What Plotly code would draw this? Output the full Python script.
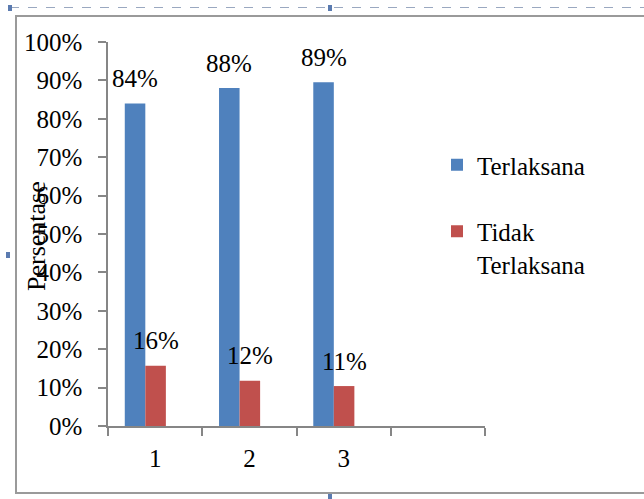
import plotly.graph_objects as go

categories = [1, 2, 3]
category_labels = ["1", "2", "3"]
terlaksana = [0.84, 0.88, 0.895]
tidak_terlaksana = [0.157, 0.118, 0.104]
terlaksana_text = ["84%", "88%", "89%"]
tidak_text = ["16%", "12%", "11%"]
series_names = ["Terlaksana", "Tidak<br>Terlaksana"]
y_ticks = [0, 0.1, 0.2, 0.3, 0.4, 0.5, 0.6, 0.7, 0.8, 0.9, 1.0]

W, H = 644, 499
L, R, T, B = 108, 485, 42, 426  # plot area pixel bounds

def px(x):
    return (x - L) / (R - L)

def py(y):
    return (B - y) / (B - T)

BLUE = "#4F81BD"
RED = "#C0504D"
AXIS = "#868686"
FONT = "Liberation Serif"
BAR_W = 0.218
OFF_BLUE = -0.322
OFF_RED = OFF_BLUE + BAR_W

fig = go.Figure()
fig.add_trace(go.Bar(x=categories, y=terlaksana, name=series_names[0],
                     width=BAR_W, offset=OFF_BLUE,
                     marker=dict(color=BLUE, line=dict(width=0)),
                     legendgroup="a"))
fig.add_trace(go.Bar(x=categories, y=tidak_terlaksana, name=series_names[1],
                     width=BAR_W, offset=OFF_RED,
                     marker=dict(color=RED, line=dict(width=0)),
                     legendgroup="b"))

annotations = []
for c, v, t in zip(categories, terlaksana, terlaksana_text):
    annotations.append(dict(x=c + OFF_BLUE + BAR_W / 2, y=v, text=t, showarrow=False, yshift=25,
                            xanchor="center", yanchor="middle",
                            font=dict(family=FONT, size=25, color="black")))
for c, v, t in zip(categories, tidak_terlaksana, tidak_text):
    annotations.append(dict(x=c + OFF_RED + BAR_W / 2, y=v, text=t, showarrow=False, yshift=25,
                            xanchor="center", yanchor="middle",
                            font=dict(family=FONT, size=25, color="black")))

annotations.append(dict(xref="paper", yref="paper", x=px(37), y=py(236),
                        text="Persentase", textangle=-90, showarrow=False,
                        xanchor="center", yanchor="middle",
                        font=dict(family=FONT, size=26, color="black")))

shapes = [
    dict(type="rect", xref="paper", yref="paper", x0=px(16), x1=px(660), y0=py(493), y1=py(16),
         line=dict(color="#9a9a9a", width=2), fillcolor="rgba(0,0,0,0)", layer="below"),
    dict(type="line", xref="paper", yref="paper", x0=px(10), x1=px(644), y0=py(7.5), y1=py(7.5),
         line=dict(color="#9aa8c0", width=1.2, dash="dash")),
]
for hx, hy in [(10, 8), (330, 8), (8, 255), (330, 497)]:
    shapes.append(dict(type="rect", xref="paper", yref="paper",
                       x0=px(hx - 2), x1=px(hx + 2), y0=py(hy + 3), y1=py(hy - 3),
                       line=dict(width=0), fillcolor="#5b7bb0"))

fig.update_layout(
    width=W, height=H, autosize=False,
    margin=dict(l=L, r=W - R, t=T, b=H - B, pad=0, autoexpand=False),
    paper_bgcolor="white", plot_bgcolor="white",
    barmode="overlay",
    font=dict(family=FONT, size=25, color="black"),
    showlegend=True,
    legend=dict(xref="container", yref="container", x=437 / W, y=1 - 142 / H,
                xanchor="left", yanchor="top", valign="top",
                traceorder="grouped", tracegroupgap=31,
                font=dict(family=FONT, size=25, color="black"),
                bgcolor="rgba(0,0,0,0)"),
    xaxis=dict(range=[0.5, 4.5], tickmode="array", tickvals=categories, ticktext=category_labels,
               ticks="", showgrid=False, zeroline=False,
               showline=True, linecolor=AXIS, linewidth=1.5,
               ticklabelstandoff=9,
               tickfont=dict(family=FONT, size=25, color="black"),
               minor=dict(ticks="outside", ticklen=8, tickcolor=AXIS, tickwidth=1.5,
                          tick0=0.5, dtick=1, showgrid=False)),
    yaxis=dict(range=[0, 1], tickmode="array", tickvals=y_ticks, tickformat=".0%",
               ticks="outside", ticklen=8, tickcolor=AXIS, tickwidth=1.5,
               showgrid=False, zeroline=False,
               showline=True, linecolor=AXIS, linewidth=1.5,
               ticklabelstandoff=11,
               tickfont=dict(family=FONT, size=25, color="black")),
    annotations=annotations,
    shapes=shapes,
)

fig.write_html("out.html", config={"displayModeBar": False},
               post_script="document.body.style.margin='0';")
